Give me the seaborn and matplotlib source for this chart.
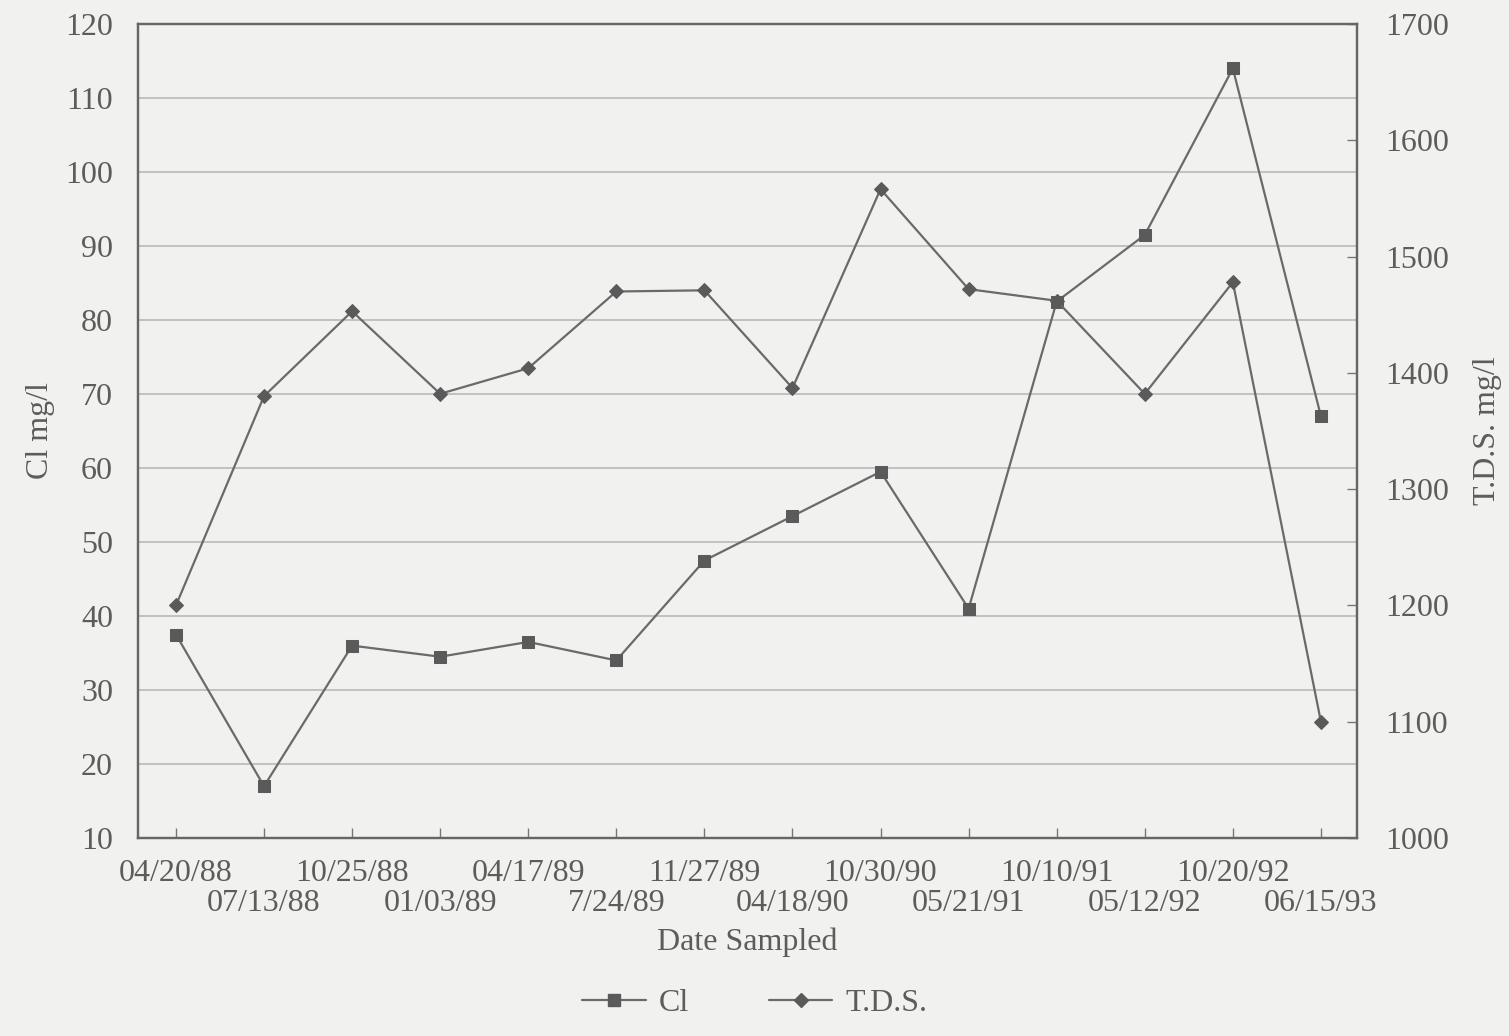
import matplotlib
matplotlib.use("Agg")
import matplotlib.pyplot as plt
from matplotlib.lines import Line2D
import seaborn as sns

# sample dates, Cl and total dissolved solids (mg/l)
dates = ['04/20/88', '07/13/88', '10/25/88', '01/03/89', '04/17/89', '7/24/89', '11/27/89',
         '04/18/90', '10/30/90', '05/21/91', '10/10/91', '05/12/92', '10/20/92', '06/15/93']
cl_values = [37.5, 17, 36, 34.5, 36.5, 34, 47.5, 53.5, 59.5, 41, 82.5, 91.5, 114, 67]
tds_values = [1200, 1380, 1453, 1382, 1404, 1470, 1471, 1387, 1558, 1472, 1462, 1382, 1478, 1100]
cl_ticks = list(range(10, 121, 10))
tds_ticks = list(range(1000, 1701, 100))

bg = '#f1f1f0'
ink = '#5c5c5c'
line_col = '#6a6a6a'
mark_col = '#5a5a5a'

sns.set_theme(style='white')
plt.rcParams['font.family'] = ['Liberation Serif', 'DejaVu Serif']
plt.rcParams['text.color'] = ink
plt.rcParams['axes.labelcolor'] = ink
plt.rcParams['xtick.color'] = ink
plt.rcParams['ytick.color'] = ink

fig = plt.figure(figsize=(15.09, 10.36), dpi=100, facecolor=bg)
ax = fig.add_axes([0.0915, 0.1911, 0.8078, 0.7857])
ax.set_facecolor(bg)
ax2 = ax.twinx()

idx = list(range(len(dates)))

sns.lineplot(x=idx, y=cl_values, ax=ax, color=line_col, linewidth=1.6,
             marker='s', markersize=9, markerfacecolor=mark_col, markeredgecolor=mark_col)
sns.lineplot(x=idx, y=tds_values, ax=ax2, color=line_col, linewidth=1.6,
             marker='D', markersize=7, markerfacecolor=mark_col, markeredgecolor=mark_col)

# left axis
ax.set_ylim(10, 120)
ax.set_yticks(cl_ticks)
ax.yaxis.grid(True, color='#b4b4b4', linewidth=1.1)
ax.tick_params(axis='y', length=0, pad=18, labelsize=23)
ax.set_ylabel('Cl mg/l', fontsize=23)
ax.yaxis.set_label_coords(-0.068, 0.5)

# right axis
ax2.set_ylim(1000, 1700)
ax2.set_yticks(tds_ticks)
ax2.tick_params(axis='y', direction='in', length=7, width=1, pad=20, labelsize=23, color='#777777')
ax2.set_ylabel('T.D.S. mg/l', fontsize=23)
ax2.yaxis.set_label_coords(1.095, 0.5)
ax2.grid(False)

# x axis, labels staggered on two rows (even dates on major ticks, odd on minor)
ax.set_xlim(-0.43, len(dates) - 1 + 0.41)
ax.set_xticks(idx[0::2])
ax.set_xticklabels(dates[0::2], fontsize=23)
ax.set_xticks(idx[1::2], minor=True)
ax.set_xticklabels(dates[1::2], minor=True, fontsize=23)
ax.tick_params(axis='x', which='major', direction='in', length=7, width=1, pad=15,
               color='#777777', bottom=True)
ax.tick_params(axis='x', which='minor', direction='in', length=7, width=1, pad=37,
               color='#777777', bottom=True)
ax.set_xlabel('Date Sampled', fontsize=23)
ax.xaxis.set_label_coords(0.5, -0.11)

for a in (ax, ax2):
    for s in a.spines.values():
        s.set_color('#666666')
        s.set_linewidth(1.6)

# legend at the bottom
handles = [Line2D([], [], color=line_col, linewidth=1.6, marker='s', markersize=9,
                  markerfacecolor=mark_col, markeredgecolor=mark_col),
           Line2D([], [], color=line_col, linewidth=1.6, marker='D', markersize=7,
                  markerfacecolor=mark_col, markeredgecolor=mark_col)]
if ax.get_legend():
    ax.get_legend().remove()
fig.legend(handles, ['Cl', 'T.D.S.'], loc='center', bbox_to_anchor=(0.5, 1 - 1003 / 1036),
           ncol=2, frameon=False, fontsize=23, handlelength=2.0, columnspacing=2.5,
           handletextpad=0.4)

fig.savefig('out.png', dpi=100, facecolor=bg)
